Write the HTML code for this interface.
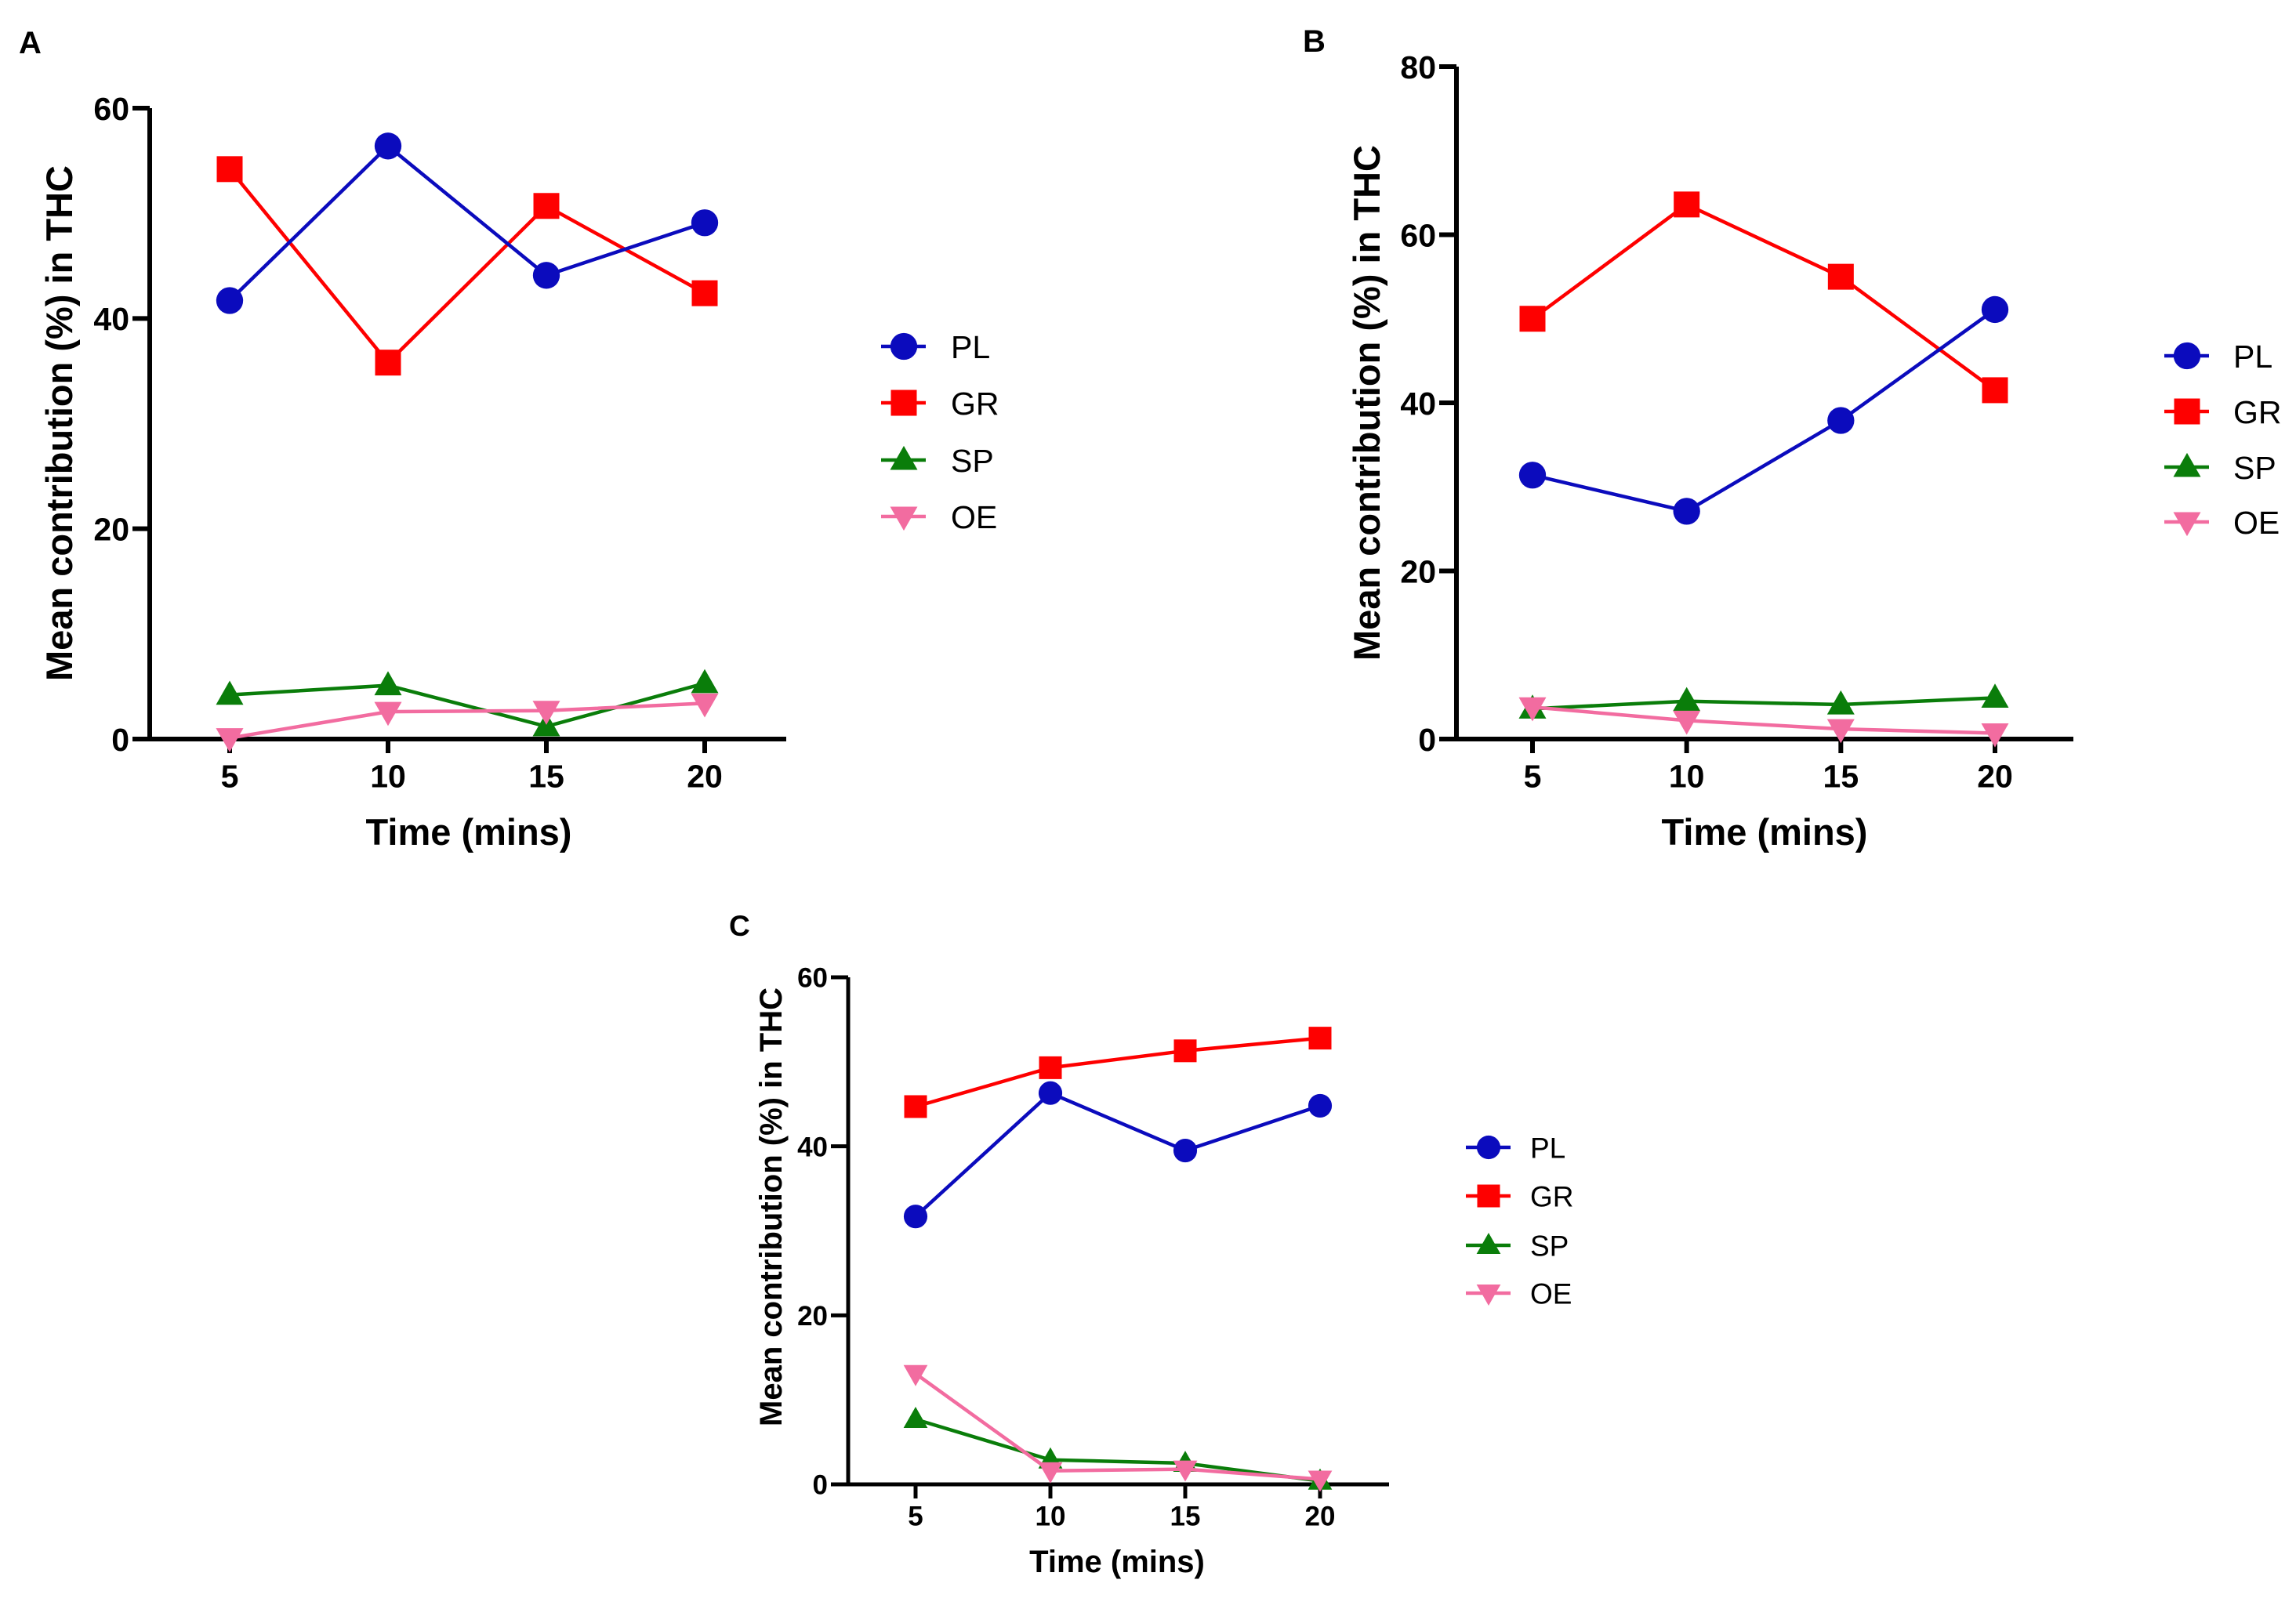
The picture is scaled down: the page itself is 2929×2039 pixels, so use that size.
<!DOCTYPE html>
<html><head><meta charset="utf-8"><style>
html,body{margin:0;padding:0;background:#fff;}
svg{display:block;font-family:"Liberation Sans",Arial,sans-serif;}
</style></head><body>
<svg id="fig" width="2929" height="2039" viewBox="0 0 2929 2039" xmlns="http://www.w3.org/2000/svg"></svg>
<script>
const times = [5, 10, 15, 20];
const seriesNames = ["PL", "GR", "SP", "OE"];
const aPL = [41.7, 56.4, 44.1, 49.1];
const aGR = [54.2, 35.8, 50.7, 42.4];
const aSP = [4.2, 5.1, 1.2, 5.3];
const aOE = [0.1, 2.6, 2.7, 3.4];
const bPL = [31.4, 27.1, 37.9, 51.1];
const bGR = [50.0, 63.6, 55.0, 41.5];
const bSP = [3.6, 4.5, 4.1, 4.9];
const bOE = [3.8, 2.2, 1.2, 0.7];
const cPL = [31.7, 46.3, 39.5, 44.8];
const cGR = [44.7, 49.3, 51.3, 52.8];
const cSP = [7.7, 2.9, 2.5, 0.4];
const cOE = [13.1, 1.6, 1.8, 0.6];
const ticksA = [0, 20, 40, 60];
const ticksB = [0, 20, 40, 60, 80];
const ticksC = [0, 20, 40, 60];

const NS = "http://www.w3.org/2000/svg";
const svg = document.getElementById("fig");
const colors = {PL:"#0b0bbd", GR:"#fe0000", SP:"#0a7d0a", OE:"#f26ca0"};
function mk(tag, attrs, parent){
  const e = document.createElementNS(NS, tag);
  for (const k in attrs) e.setAttribute(k, attrs[k]);
  (parent||svg).appendChild(e); return e;
}
function marker(g, type, cx, cy, s, col){
  let e;
  if (type==="PL") e = mk("circle",{cx:cx,cy:cy,r:s*0.52,fill:col},g);
  else if (type==="GR") e = mk("rect",{x:cx-s/2,y:cy-s/2,width:s,height:s,fill:col},g);
  else if (type==="SP") e = mk("polygon",{points:`${cx},${cy-s*0.55} ${cx+s*0.53},${cy+s*0.38} ${cx-s*0.53},${cy+s*0.38}`,fill:col},g);
  else e = mk("polygon",{points:`${cx},${cy+s*0.55} ${cx+s*0.53},${cy-s*0.38} ${cx-s*0.53},${cy-s*0.38}`,fill:col},g);
  return e;
}
function panel(p){
  const g = mk("g",{});
  
  
  const sy = v => p.y0 + (p.yTop - p.y0) * v / p.ymax;
  const sx = t => p.x5 + (p.x20 - p.x5) * (t - 5) / 15;
  const lbl = mk("text",{x:p.lx,y:p.ly,"font-size":p.lf,"font-weight":"bold"},g);
  lbl.textContent = p.id;
  
  
  const ax = mk("path",{d:`M${p.ax},${p.yTop} L${p.ax},${p.y0} L${p.xEnd},${p.y0}`,stroke:"#000","stroke-width":p.sw,fill:"none"},g);
  
  
  p.ticks.forEach(v => {
    mk("line",{x1:p.ax-22,x2:p.ax,y1:sy(v),y2:sy(v),stroke:"#000","stroke-width":p.sw},g);
    const t = mk("text",{x:p.ax-26,y:sy(v)+p.tf*0.36,"font-size":p.tf,"font-weight":"bold","text-anchor":"end"},g);
    t.textContent = v;
    
    
  });
  times.forEach(tv => {
    mk("line",{x1:sx(tv),x2:sx(tv),y1:p.y0,y2:p.y0+18,stroke:"#000","stroke-width":p.sw},g);
    const t = mk("text",{x:sx(tv),y:p.y0+p.tf*1.5,"font-size":p.tf,"font-weight":"bold","text-anchor":"middle"},g);
    t.textContent = tv;
    
    
  });
  const xt = mk("text",{x:p.xtX,y:p.xtY,"font-size":p.af,"font-weight":"bold","text-anchor":"middle"},g);
  xt.textContent = "Time (mins)";
  
  
  const yt = mk("text",{x:0,y:0,"font-size":p.af,"font-weight":"bold","text-anchor":"middle",transform:`translate(${p.ytX},${p.ytY}) rotate(-90)`},g);
  yt.textContent = "Mean contribution (%) in THC";
  
  
  const order = ["SP","OE","GR","PL"];
  order.forEach(name => {
    const vals = p.data[name], col = colors[name];
    const line = mk("polyline",{points:vals.map((v,i)=>sx(times[i])+","+sy(v)).join(" "),stroke:col,"stroke-width":4.5,fill:"none"},g);
    
    
    vals.forEach((v,i) => {
      const m = marker(g, name, sx(times[i]), sy(v), p.ms, col);
      
      
    });
  });
  seriesNames.forEach((name,i) => {
    const y = p.legY[i], col = colors[name];
    const lg = mk("g",{},g);
    
    
    mk("line",{x1:p.legX-29,x2:p.legX+28,y1:y,y2:y,stroke:col,"stroke-width":4.5},lg);
    marker(lg, name, p.legX, y, p.ms, col);
    const t = mk("text",{x:p.legTX,y:y+p.legF*0.36,"font-size":p.legF},lg);
    t.textContent = name;
  });
}
panel({id:"A",lx:24,ly:68,lf:40,ax:191,yTop:138,y0:943,ymax:60,x5:293,x20:899,xEnd:1003,ticks:ticksA,tf:41,af:47,sw:6,
  xtX:598,xtY:1078,ytX:92,ytY:540,ms:33,data:{PL:aPL,GR:aGR,SP:aSP,OE:aOE},
  legX:1153,legTX:1213,legF:41,legY:[442,514,587,659]});
panel({id:"B",lx:1662,ly:66,lf:40,ax:1858,yTop:85,y0:943,ymax:80,x5:1955,x20:2545,xEnd:2645,ticks:ticksB,tf:41,af:47,sw:6,
  xtX:2251,xtY:1078,ytX:1760,ytY:514,ms:33,data:{PL:bPL,GR:bGR,SP:bSP,OE:bOE},
  legX:2790,legTX:2849,legF:41,legY:[454,525,596,666]});
panel({id:"C",lx:930,ly:1194,lf:37,ax:1082,yTop:1247,y0:1894,ymax:60,x5:1168,x20:1684,xEnd:1772,ticks:ticksC,tf:35,af:40,sw:5,
  xtX:1425,xtY:2006,ytX:997,ytY:1540,ms:29,data:{PL:cPL,GR:cGR,SP:cSP,OE:cOE},
  legX:1899,legTX:1952,legF:37,legY:[1464,1526,1589,1650]});
</script>
</body></html>
